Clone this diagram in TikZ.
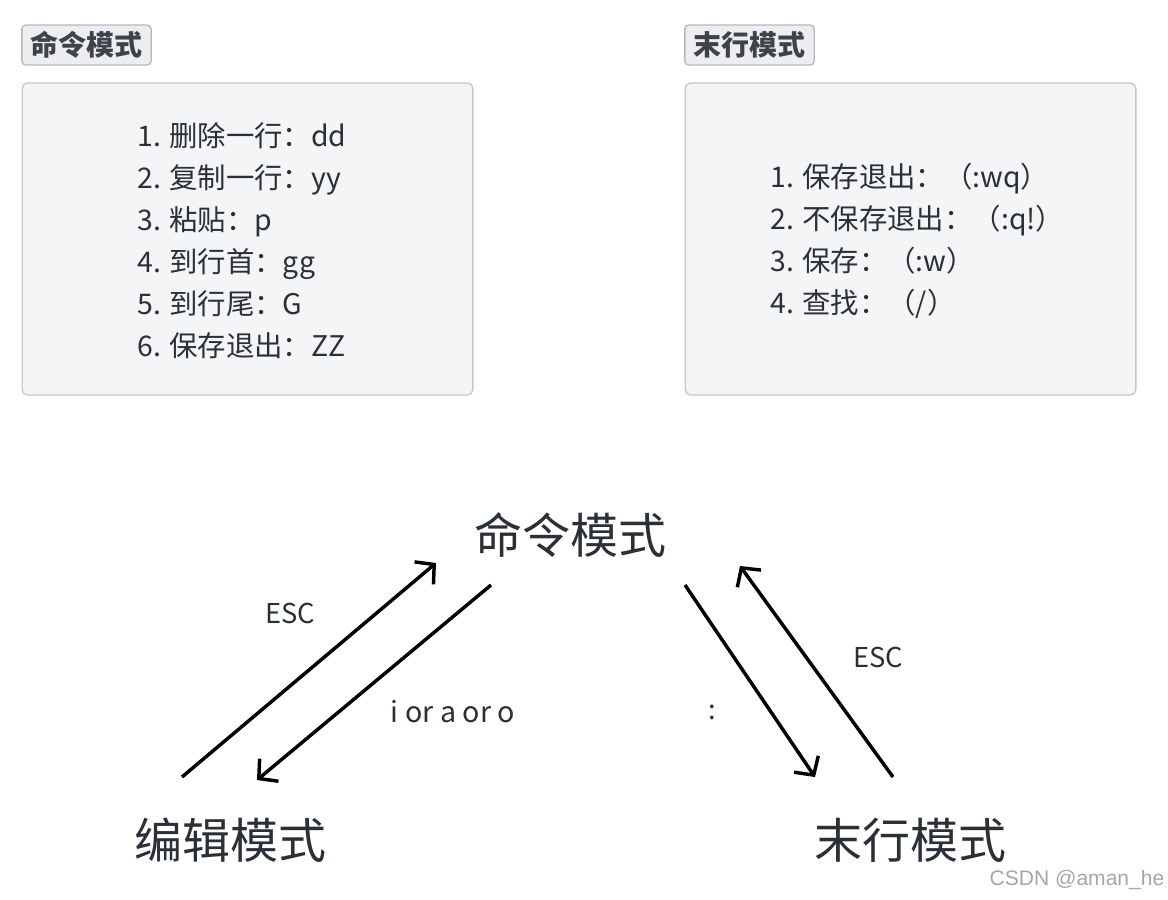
\documentclass[tikz,border=0pt]{standalone}
\usepackage{fontspec}
\setmainfont{Noto Sans CJK SC}
\newfontfamily\csdnfont{Liberation Sans}
\usetikzlibrary{positioning,arrows.meta}
\definecolor{txtc}{HTML}{2B2F36}
\definecolor{tagtxt}{HTML}{3F4349}
\definecolor{tagfill}{HTML}{ECEEF1}
\definecolor{tagline}{HTML}{B4B8BD}
\definecolor{boxfill}{HTML}{F4F5F7}
\definecolor{boxline}{HTML}{C4C7CB}

\begin{document}
\begin{tikzpicture}[x=0.75pt, y=-0.75pt,
    every node/.style={text=txtc, inner sep=0pt},
    tag/.style={rectangle, rounded corners=3pt, draw=tagline, fill=tagfill,
                line width=1pt, minimum width=97pt, minimum height=30pt,
                text=tagtxt, font=\fontsize{21}{25}\selectfont\bfseries},
    card/.style={rectangle, rounded corners=4pt, draw=boxline, fill=boxfill,
                 line width=1pt, minimum width=338pt, minimum height=234pt},
    list/.style={anchor=west, align=left, font=\fontsize{21.3}{31.5}\selectfont},
    mode/.style={font=\fontsize{36}{40}\selectfont},
    lbl/.style={font=\fontsize{20.5}{24}\selectfont},
    arr/.style={-{Straight Barb[length=10pt,width=22pt]}, line width=2.6pt, black},
]
    \useasboundingbox (0,0) rectangle (1168,900);
    %% top: two cards
    \node[tag] (cmdtag) at (86.5,45) {命令模式};
    \node[card] (cmdcard) at (247.5,239) {};
    \node[list] (cmdlist) at (137,241)
        {1. 删除一行：dd\\2. 复制一行：yy\\3. 粘贴：p\\4. 到行首：gg\\5. 到行尾：G\\6. 保存退出：ZZ};
    \node[tag] (lasttag) at (749.5,45) {末行模式};
    \node[card] (lastcard) at (910.5,239) {};
    \node[list] (lastlist) at (770,241)
        {1. 保存退出：（:wq）\\2. 不保存退出：（:q!）\\3. 保存：（:w）\\4. 查找：（/）};
    %% bottom: mode switching
    \node[mode] (cmd) at (570,535) {命令模式};
    \node[mode] (edit) at (230,840) {编辑模式};
    \node[mode] (last) at (910,840) {末行模式};
    \coordinate (ec1) at (182,777);
    \coordinate (ec2) at (436,563);
    \coordinate (ce1) at (491,585);
    \coordinate (ce2) at (257,780);
    \coordinate (cl1) at (685,585);
    \coordinate (cl2) at (815,777);
    \coordinate (lc1) at (893,777);
    \coordinate (lc2) at (740,566);
    \draw[arr] (ec1) -- (ec2);
    \draw[arr] (ce1) -- (ce2);
    \draw[arr] (cl1) -- (cl2);
    \draw[arr] (lc1) -- (lc2);
    \node[lbl] (escl) at (290,613) {ESC};
    \node[lbl, font=\fontsize{21.5}{24}\selectfont] (iao) at (453,712) {i or a or o};
    \node[lbl] (colon) at (712,712) {:};
    \node[lbl] (escr) at (878,657) {ESC};
    \node[font=\csdnfont\fontsize{15.8}{18}\selectfont, text=black!35] (mark) at (1077,880) {CSDN @aman\_he};
\end{tikzpicture}
\end{document}
